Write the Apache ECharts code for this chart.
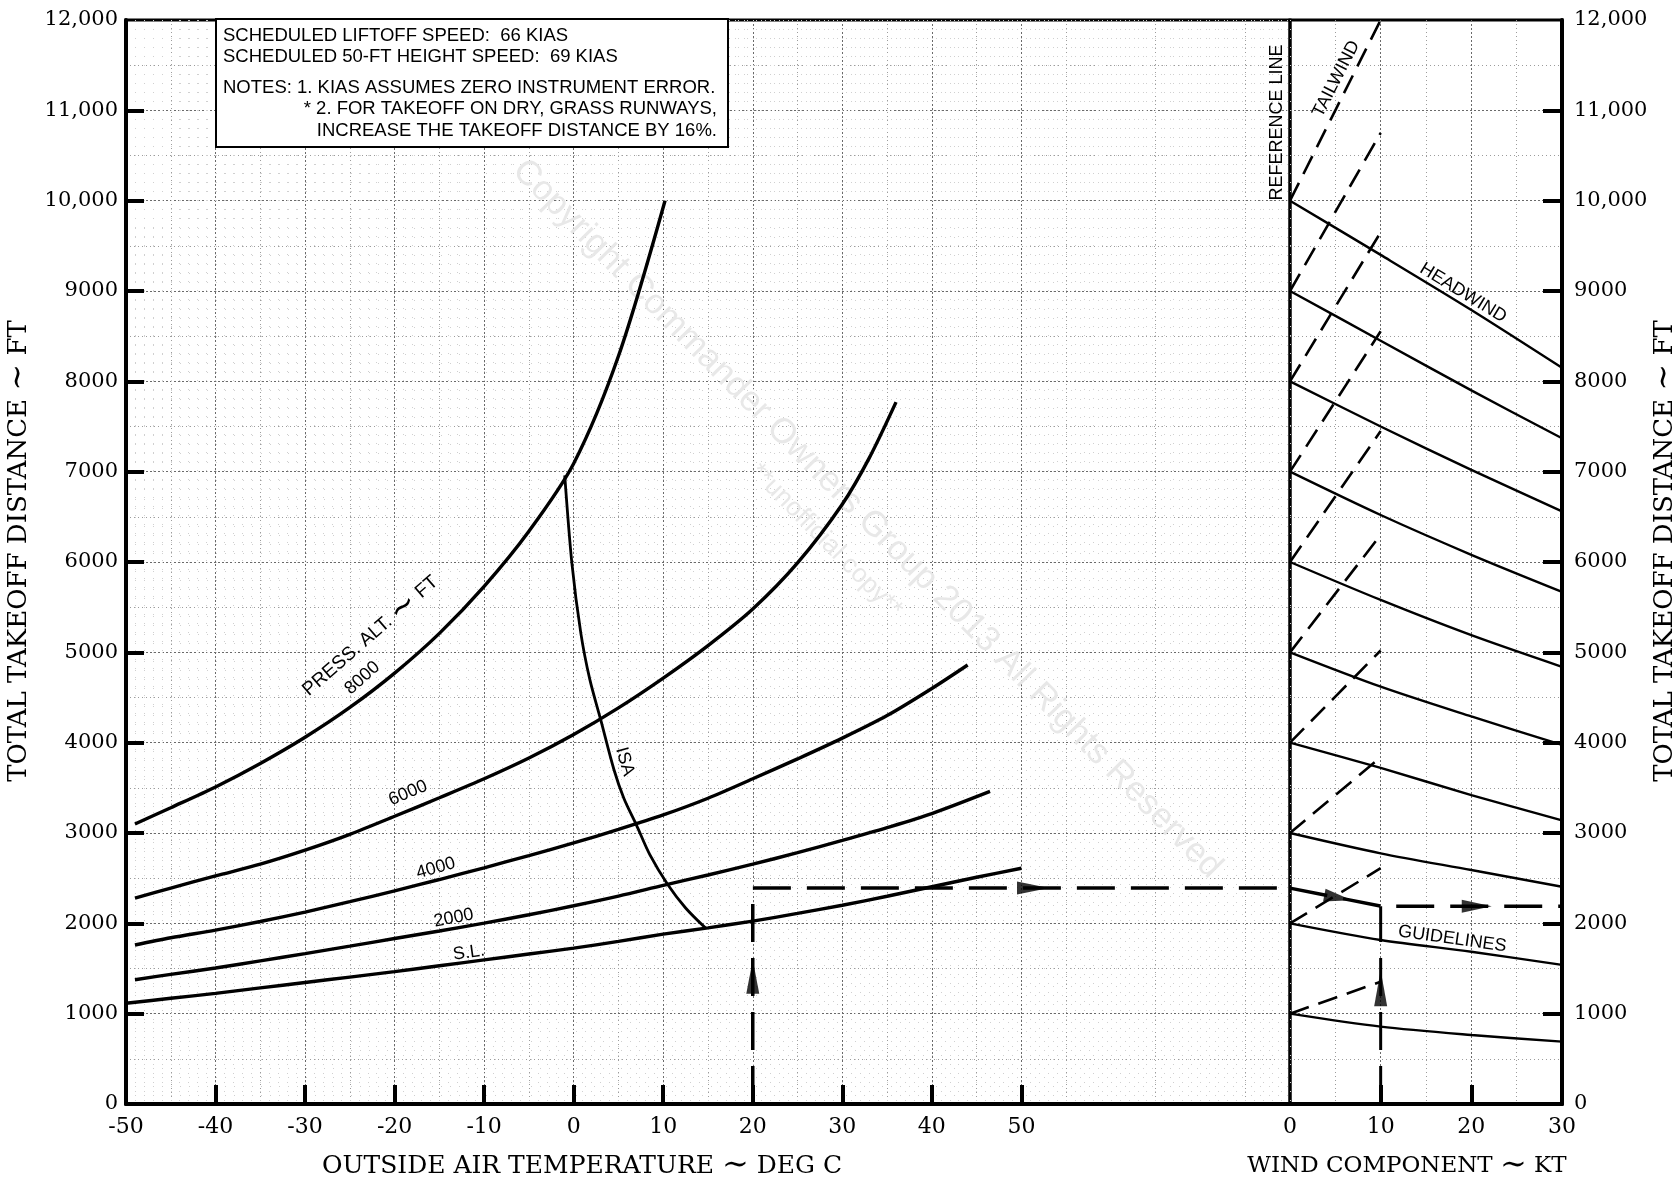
<!DOCTYPE html>
<html>
<head>
<meta charset="utf-8">
<script src="https://cdn.jsdelivr.net/npm/echarts@6/dist/echarts.min.js"></script>
<style>
  html, body { margin: 0; padding: 0; background: #fff; }
  #chart { width: 1679px; height: 1181px; }
</style>
</head>
<body>
<div id="chart"></div>
<script>
// ---- data ----
const tempTicks = [-50, -40, -30, -20, -10, 0, 10, 20, 30, 40, 50];
const windTicks = [0, 10, 20, 30];
const distTicks = [0, 1000, 2000, 3000, 4000, 5000, 6000, 7000, 8000, 9000, 10000, 11000, 12000];

// pressure altitude curves: [OAT degC, takeoff distance ft]
const altSL = [[-50, 1115], [-45, 1170], [-40, 1225], [-35, 1285], [-30, 1345], [-25, 1405], [-20, 1465], [-15, 1530], [-10, 1595], [-5, 1660], [0, 1725], [5, 1800], [10, 1880], [15, 1950], [20, 2025], [25, 2110], [30, 2200], [35, 2300], [40, 2405], [45, 2510], [50, 2610]];
const alt2000 = [[-49, 1375], [-45, 1435], [-40, 1505], [-35, 1585], [-30, 1665], [-25, 1748], [-20, 1832], [-15, 1915], [-10, 2002], [-5, 2095], [0, 2195], [5, 2302], [10, 2420], [15, 2535], [20, 2655], [25, 2782], [30, 2918], [35, 3060], [40, 3215], [46.5, 3460]];
const alt4000 = [[-49, 1760], [-45, 1840], [-40, 1925], [-35, 2020], [-30, 2125], [-25, 2240], [-20, 2360], [-15, 2485], [-10, 2615], [-5, 2750], [0, 2890], [5, 3040], [10, 3200], [15, 3385], [20, 3600], [25, 3820], [30, 4050], [35, 4300], [40, 4600], [44, 4860]];
const alt6000 = [[-49, 2280], [-45, 2390], [-40, 2525], [-35, 2655], [-30, 2810], [-25, 2985], [-20, 3185], [-15, 3390], [-10, 3600], [-5, 3830], [0, 4090], [5, 4385], [10, 4715], [15, 5075], [20, 5480], [25, 5990], [30, 6640], [33, 7150], [36, 7770]];
const alt8000 = [[-49, 3100], [-45, 3280], [-40, 3510], [-35, 3770], [-30, 4060], [-25, 4390], [-20, 4770], [-15, 5210], [-10, 5730], [-5, 6340], [0, 7090], [5, 8280], [10.2, 10000]];
const isaLine = [[-1, 6960], [-0.2, 5985], [0.8, 5210], [1.8, 4700], [3, 4260], [4.5, 3700], [5.6, 3385], [7, 3090], [8.5, 2760], [10.5, 2430], [12.5, 2170], [14.7, 1950]];

// wind correction: distance at reference line and along headwind guidelines at 10/20/30 kt
const refDist = [1000, 2000, 3000, 4000, 5000, 6000, 7000, 8000, 9000, 10000];
const head10 = [856, 1816, 2775, 3720, 4620, 5580, 6520, 7500, 8450, 9400];
const head20 = [764, 1686, 2590, 3420, 4290, 5190, 6080, 7020, 7900, 8790];
const head30 = [690, 1540, 2405, 3140, 3975, 4840, 5670, 6560, 7370, 8150];
const tail10 = [1354, 2610, 3838, 5020, 6300, 7450, 8554, 9650, 10750, 12000];

// worked example
const exTemp = [20, 20, 80];
const exDist = [0, 2390, 2390];
const exWind = [0, 10, 30];
const exWindDist = [2390, 2190, 2190];
const exWindUp = [[10, 0], [10, 2190]];

const noteLines = [
  'SCHEDULED LIFTOFF SPEED:  66 KIAS',
  'SCHEDULED 50-FT HEIGHT SPEED:  69 KIAS',
  'NOTES: 1. KIAS ASSUMES ZERO INSTRUMENT ERROR.',
  '* 2. FOR TAKEOFF ON DRY, GRASS RUNWAYS,',
  'INCREASE THE TAKEOFF DISTANCE BY 16%.'
];

// ---- styles ----
const SERIF = '"DejaVu Serif", serif';
const SANS = '"Liberation Sans", Arial, sans-serif';
const dotMajor = { color: '#6a6a6a', width: 1, type: [2, 2] };
const dotMinor = { color: '#9c9c9c', width: 1, type: [1, 3] };
const dotFine = { color: '#d0d0d0', width: 1, type: [1, 8] };

const fmtDist = v => v >= 10000 ? String(v).replace(/\B(?=(\d{3})+(?!\d))/g, ',') : String(v);

const chart = echarts.init(document.getElementById('chart'));

function curve(data, width) {
  return {
    type: 'line', xAxisIndex: 0, yAxisIndex: 0, data: data,
    smooth: 0.3, showSymbol: false, silent: true, z: 5,
    lineStyle: { color: '#000', width: width }
  };
}

function windLine(data, width, dash) {
  return {
    type: 'line', xAxisIndex: 2, yAxisIndex: 2, data: data,
    smooth: 0.3, showSymbol: false, silent: true, z: 5,
    lineStyle: { color: '#000', width: width, type: dash || 'solid' }
  };
}

let series = [
  curve(altSL, 3.4), curve(alt2000, 3.4), curve(alt4000, 3.4),
  curve(alt6000, 3.4), curve(alt8000, 3.4), curve(isaLine, 2.8)
];

refDist.forEach(function (d, i) {
  const hw = [d, head10[i], head20[i], head30[i]];
  series.push(windLine(windTicks.map((k, j) => [k, hw[j]]), 2.4));
  series.push(windLine([[0, d], [10, tail10[i]]], 2.6, [20, 10]));
});

// example path (dashed)
series.push({
  type: 'line', xAxisIndex: 0, yAxisIndex: 0, silent: true, showSymbol: false, z: 6,
  data: exTemp.map((t, i) => [t, exDist[i]]),
  lineStyle: { color: '#000', width: 3.5, type: [38, 16] }
});
series.push({
  type: 'line', xAxisIndex: 2, yAxisIndex: 2, silent: true, showSymbol: false, z: 6,
  data: exWind.map((w, i) => [w, exWindDist[i]]),
  lineStyle: { color: '#000', width: 3.5, type: [38, 16] }
});
series.push({
  type: 'line', xAxisIndex: 2, yAxisIndex: 2, silent: true, showSymbol: false, z: 6,
  data: exWindUp,
  lineStyle: { color: '#000', width: 3, type: [38, 16] }
});
// arrow heads on the example path
series.push({
  type: 'scatter', xAxisIndex: 0, yAxisIndex: 0, silent: true, z: 7,
  symbol: 'triangle', itemStyle: { color: '#000' },
  data: [
    { value: [20, 1410], symbolSize: [13, 34], symbolRotate: 0 },
    { value: [51.3, 2390], symbolSize: [13, 32], symbolRotate: -90 }
  ]
});
series.push({
  type: 'scatter', xAxisIndex: 2, yAxisIndex: 2, silent: true, z: 7,
  symbol: 'triangle', itemStyle: { color: '#000' },
  data: [
    { value: [5.3, 2284], symbolSize: [13, 28], symbolRotate: -101 },
    { value: [20.6, 2190], symbolSize: [13, 30], symbolRotate: -90 },
    { value: [10, 1280], symbolSize: [13, 36], symbolRotate: 0 }
  ]
});

const option = {
  animation: false,
  backgroundColor: '#fff',
  textStyle: { fontFamily: SERIF },
  grid: [
    { left: 126, top: 20, width: 1164, height: 1084, show: true, borderColor: '#000', borderWidth: 3 },
    { left: 1290, top: 20, width: 272, height: 1084, show: true, borderColor: '#000', borderWidth: 3 }
  ],
  xAxis: [
    {
      gridIndex: 0, type: 'value', min: -50, max: 80, interval: 10, position: 'bottom',
      axisLine: { show: true, onZero: false, lineStyle: { color: '#000', width: 4 } },
      axisTick: { show: true, inside: true, length: 19, lineStyle: { color: '#000', width: 4 }, customValues: tempTicks.slice(1) },
      axisLabel: { customValues: tempTicks, margin: 12, color: '#000', fontFamily: SERIF, fontSize: 22 },
      splitLine: { show: true, lineStyle: dotMajor },
      minorTick: { show: false, splitNumber: 2 },
      minorSplitLine: { show: true, lineStyle: dotMinor }
    },
    {
      gridIndex: 0, type: 'value', min: -50, max: 80, interval: 1, position: 'top',
      axisLine: { show: false }, axisTick: { show: false }, axisLabel: { show: false },
      splitLine: { show: true, lineStyle: dotFine }
    },
    {
      gridIndex: 1, type: 'value', min: 0, max: 30, interval: 10, position: 'bottom',
      axisLine: { show: true, onZero: false, lineStyle: { color: '#000', width: 4 } },
      axisTick: { show: true, inside: true, length: 19, lineStyle: { color: '#000', width: 4 }, customValues: [10, 20] },
      axisLabel: { customValues: windTicks, margin: 12, color: '#000', fontFamily: SERIF, fontSize: 22 },
      splitLine: { show: true, lineStyle: dotMajor },
      minorTick: { show: false, splitNumber: 2 },
      minorSplitLine: { show: true, lineStyle: dotMinor }
    }
  ],
  yAxis: [
    {
      gridIndex: 0, type: 'value', min: 0, max: 12000, interval: 1000, position: 'left',
      axisLine: { show: true, onZero: false, lineStyle: { color: '#000', width: 4 } },
      axisTick: { show: true, inside: true, length: 18, lineStyle: { color: '#000', width: 4 }, customValues: distTicks.slice(1, -1) },
      axisLabel: { formatter: fmtDist, margin: 8, color: '#000', fontFamily: SERIF, fontSize: 21 },
      splitLine: { show: true, lineStyle: dotMajor },
      minorTick: { show: false, splitNumber: 2 },
      minorSplitLine: { show: true, lineStyle: dotMinor }
    },
    {
      gridIndex: 0, type: 'value', min: 0, max: 12000, interval: 100, position: 'right',
      axisLine: { show: false }, axisTick: { show: false }, axisLabel: { show: false },
      splitLine: { show: true, lineStyle: dotFine }
    },
    {
      gridIndex: 1, type: 'value', min: 0, max: 12000, interval: 1000, position: 'right',
      axisLine: { show: true, onZero: false, lineStyle: { color: '#000', width: 4 } },
      axisTick: { show: true, inside: true, length: 19, lineStyle: { color: '#000', width: 4 }, customValues: distTicks.slice(1, -1) },
      axisLabel: { formatter: fmtDist, margin: 12, color: '#000', fontFamily: SERIF, fontSize: 21 },
      splitLine: { show: true, lineStyle: dotMajor },
      minorTick: { show: false, splitNumber: 2 },
      minorSplitLine: { show: true, lineStyle: dotMinor }
    }
  ],
  series: series
};

chart.setOption(option);

// ---- annotations placed from data coordinates ----
const P0 = pt => chart.convertToPixel({ xAxisIndex: 0, yAxisIndex: 0 }, pt);
const P1 = pt => chart.convertToPixel({ xAxisIndex: 2, yAxisIndex: 2 }, pt);
const deg = a => a * Math.PI / 180;

function txt(text, pos, angle, size, family, extra) {
  return {
    type: 'text', x: pos[0], y: pos[1], rotation: deg(angle || 0), z: 50, silent: true,
    style: Object.assign({
      text: text, fill: '#000', fontSize: size, fontFamily: family || SANS,
      align: 'center', verticalAlign: 'middle'
    }, extra || {})
  };
}

const graphics = [];

// watermark
graphics.push(Object.assign(txt('Copyright Commander Owners Group 2013 All Rights Reserved', [867, 519], -45.4, 35, SANS, { fill: '#e8e8e8' }), { z: 1 }));
graphics.push(Object.assign(txt('**unofficial copy**', [826, 541], -45.4, 26, SANS, { fill: '#e8e8e8' }), { z: 1 }));

// notes box
graphics.push({
  type: 'rect', z: 100, silent: true,
  shape: { x: 216, y: 19, width: 512, height: 128 },
  style: { fill: '#fff', stroke: '#000', lineWidth: 2 }
});
const noteX = [223, 223, 223, 717, 717];
const noteAlign = ['left', 'left', 'left', 'right', 'right'];
const noteY = [36, 57, 88, 109, 131];
noteLines.forEach(function (line, i) {
  graphics.push(Object.assign(txt(line, [noteX[i], noteY[i]], 0, 18.5, SANS, { align: noteAlign[i] }), { z: 101 }));
});

// curve labels
graphics.push(txt('PRESS. ALT. {t|∼} FT', P0([-22.7, 5180]), 41, 19, SANS, { rich: { t: { fontSize: 32, fontFamily: SANS } } }));
graphics.push(txt('8000', P0([-23.6, 4716]), 42, 18));
graphics.push(txt('6000', P0([-18.5, 3443]), 23, 18));
graphics.push(txt('4000', P0([-15.4, 2609]), 16, 18));
graphics.push(txt('2000', P0([-13.4, 2059]), 11, 18));
graphics.push(txt('S.L.', P0([-11.7, 1675]), 8, 18));
graphics.push(txt('ISA', P0([5.7, 3790]), -74, 18));

// wind section labels
graphics.push(txt('REFERENCE LINE', P1([-1.4, 10866]), 90, 18));
graphics.push(txt('TAILWIND', P1([5.1, 11347]), 63, 18));
graphics.push(txt('HEADWIND', P1([19.1, 8978]), -31.5, 18));
graphics.push(txt('GUIDELINES', P1([17.9, 1827]), -8, 18));

// axis titles (large tilde as in the original lettering)
const tilde = { t: { fontSize: 32, fontFamily: SERIF } };
graphics.push(txt('TOTAL TAKEOFF DISTANCE {t|∼} FT', [19, 551], 90, 26, SERIF, { rich: tilde }));
graphics.push(txt('TOTAL TAKEOFF DISTANCE {t|∼} FT', [1665, 551], 90, 26, SERIF, { rich: tilde }));
graphics.push(txt('OUTSIDE AIR TEMPERATURE {t|∼} DEG C', [582, 1166], 0, 25, SERIF, { rich: tilde }));
graphics.push(txt('WIND COMPONENT {t|∼} KT', [1407, 1166], 0, 23, SERIF, { rich: tilde }));

chart.setOption({ graphic: graphics });
</script>
</body>
</html>
